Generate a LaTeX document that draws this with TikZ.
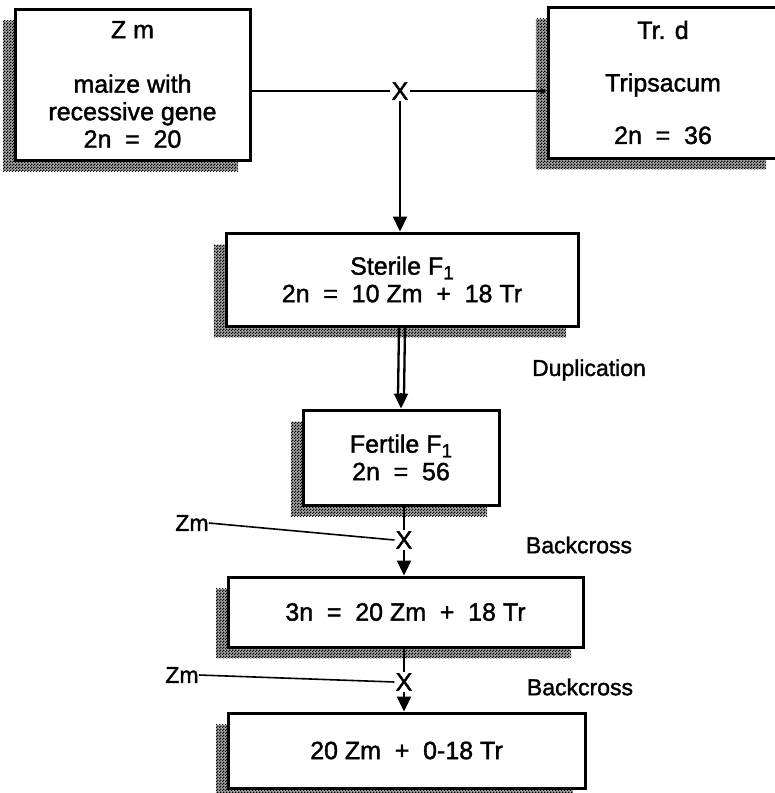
\documentclass[tikz,border=0pt]{standalone}
\usepackage{fontspec}
\setmainfont{Liberation Sans}
\usetikzlibrary{arrows.meta,patterns.meta,calc}

% wide space around = and +
\newcommand\eqgap{\hspace{0.55em}}
% sans subscript for F1
\newcommand\sub[1]{\raisebox{-0.35ex}{\fontsize{19}{19}\selectfont #1}}
% slightly heavy text face
\newcommand\heavy{\addfontfeature{FakeBold=1.5}}

% stippled screen for the drop shadows
\tikzdeclarepattern{
  name=stipple,
  type=uncolored,
  bounding box={(0pt,0pt) and (3pt,3pt)},
  tile size={(3pt,3pt)},
  code={
    \fill (0pt,0pt) rectangle (1.5pt,1.5pt);
    \fill (1.5pt,1.5pt) rectangle (3pt,3pt);
  }
}

\tikzset{
  stagebox/.style={draw, line width=3pt, fill=white, rectangle, inner sep=0pt,
    align=center, font=\fontsize{25}{27.5}\selectfont\heavy},
  shadowfill/.style={pattern=stipple, pattern color=black},
  crossmark/.style={inner sep=1pt, font=\fontsize{25}{26}\selectfont\heavy},
  sidelabel/.style={inner sep=0pt, font=\fontsize{23}{25}\selectfont\heavy},
  flow/.style={line width=2.3pt, -{Triangle[length=15pt,width=14pt]}},
  plainline/.style={line width=2.3pt},
  thinline/.style={line width=1.6pt},
}

% stippled drop shadow down and to the left of a box
\newcommand\boxshadow[1]{%
  \fill[black!35] ($(#1.north west)+(-12,12)$) rectangle ($(#1.south east)+(-12,11)$);
  \fill[shadowfill] ($(#1.north west)+(-12,12)$) rectangle ($(#1.south east)+(-12,11)$);}

\begin{document}
\begin{tikzpicture}[x=1pt,y=-1pt]
\useasboundingbox (0,0) rectangle (775,793);

% shadows first, boxes on top
\path (132.5,84.5) node[minimum width=235pt, minimum height=151pt] (zmS) {}
      (663,82.5)   node[minimum width=230pt, minimum height=151pt] (trS) {}
      (402,279.5)  node[minimum width=352pt, minimum height=93pt] (stS) {}
      (401,457.5)  node[minimum width=196pt, minimum height=95pt] (feS) {}
      (405.5,612)  node[minimum width=355pt, minimum height=70pt] (bcS) {}
      (406.5,750.5) node[minimum width=357pt, minimum height=75pt] (fiS) {};
\boxshadow{zmS}
\boxshadow{trS}
\boxshadow{stS}
\boxshadow{feS}
\boxshadow{bcS}
\boxshadow{fiS}

% parent lines
\node[stagebox, minimum width=235pt, minimum height=151pt] (zm) at (132.5,84.5)
  {Z m\\[27pt]maize with\\recessive gene\\2n\eqgap=\eqgap20};
\node[stagebox, minimum width=230pt, minimum height=151pt] (tr) at (663,82.5)
  {Tr. d\\[25pt]Tripsacum\\[25pt]2n\eqgap=\eqgap36};

% hybrid and its derivatives
\node[stagebox, minimum width=352pt, minimum height=93pt] (st) at (402,279.5)
  {Sterile F\sub{1}\\2n\eqgap=\eqgap10 Zm\eqgap+\eqgap18 Tr};
\node[stagebox, minimum width=196pt, minimum height=95pt] (fe) at (401,457.5)
  {Fertile F\sub{1}\\2n\eqgap=\eqgap56};
\node[stagebox, minimum width=355pt, minimum height=70pt] (bc) at (405.5,612)
  {3n\eqgap=\eqgap20 Zm\eqgap+\eqgap18 Tr};
\node[stagebox, minimum width=357pt, minimum height=75pt] (fi) at (406.5,750.5)
  {20 Zm\eqgap+\eqgap0-18 Tr};

% crosses
\node[crossmark] (x1) at (400,91) {X};
\node[crossmark] (x2) at (404,540) {X};
\node[crossmark] (x3) at (404,682) {X};

% recurrent parent labels
\node[sidelabel] (zm1) at (192,523) {Zm};
\node[sidelabel] (zm2) at (182,675) {Zm};

% step labels
\node[sidelabel] (dup) at (589,370) {Duplication};
\node[sidelabel] (bk1) at (579,545) {Backcross};
\node[sidelabel] (bk2) at (580,687) {Backcross};

% first cross
\draw[plainline] (zm.east |- x1) -- (x1.west);
\draw[plainline, -{Triangle[length=6pt,width=6pt]}] (x1.east) -- (x1 -| tr.west);
\draw[flow] (x1.south) -- (x1.south |- st.north);

% chromosome doubling: a double shaft ending in one head
\draw[plainline] ($(st.south)+(-3,0)$) -- ($(fe.north)+(-3,-13)$);
\draw[plainline] ($(st.south)+(3,0)$) -- ($(fe.north)+(3,-13)$);
\draw[flow] ($(fe.north)+(0,-16)$) -- (fe.north);

% first backcross
\draw[plainline] (x2 |- fe.south) -- (x2.north);
\draw[thinline] (zm1.east) -- (x2.west);
\draw[flow] (x2.south) -- (x2.south |- bc.north);

% second backcross
\draw[plainline] (x3 |- bc.south) -- (x3.north);
\draw[thinline] (zm2.east) -- (x3.west);
\draw[flow] (x3.south) -- (x3.south |- fi.north);
\end{tikzpicture}
\end{document}
